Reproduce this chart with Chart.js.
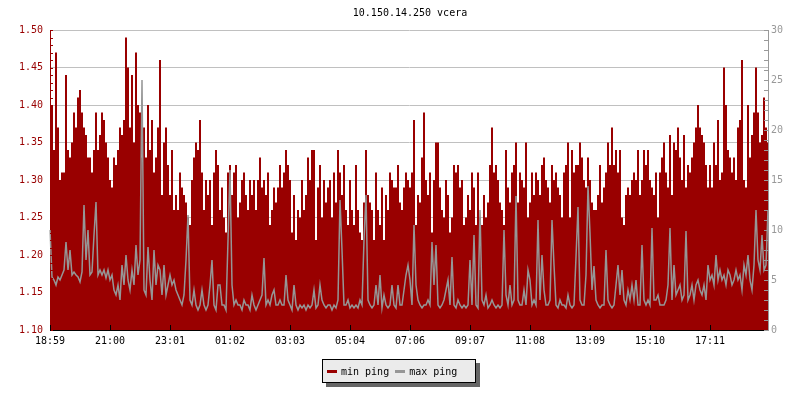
<!DOCTYPE html>
<html>
<head>
<meta charset="utf-8">
<script src="https://cdn.jsdelivr.net/npm/chart.js@4/dist/chart.umd.min.js"></script>
<style>
  html, body { margin: 0; padding: 0; background: #fff; }
  #wrap { position: relative; width: 800px; height: 400px; overflow: hidden; }
  canvas { position: absolute; left: 0; top: 0; }
  #title { position: absolute; left: 10px; top: 6px; width: 800px; text-align: center;
           font: 10px 'DejaVu Sans Mono', monospace; line-height: 14px; color: #000; }
  #legend { position: absolute; left: 322px; top: 359px; width: 152px; height: 22px;
            border: 1px solid #000; background: #ebebeb; box-shadow: 4px 4px 0 #666;
            display: flex; align-items: center; font: 10px 'DejaVu Sans Mono', monospace; color: #000; }
  .sw { display: inline-block; width: 10px; height: 3px; margin-right: 4px; }
</style>
</head>
<body>
<div id="wrap">
  <canvas id="c" width="800" height="400"></canvas>
  <div id="title">10.150.14.250 vcera</div>
  <div id="legend">
    <span class="sw" style="background:#990000;margin-left:4px"></span><span>min ping</span>
    <span class="sw" style="background:#969696;margin-left:6px"></span><span>max ping</span>
  </div>
</div>
<script>
// x tick labels (every 30 samples, 4 minutes per sample)
const tickLabels = ['18:59','21:00','23:01','01:02','03:03','05:04','07:06','09:07','11:08','13:09','15:10','17:11'];

// min ping (left axis)
const minPing = [
  1.38,1.40,1.34,1.47,1.37,1.30,1.31,1.31,1.44,1.34,1.33,1.35,1.39,1.37,1.41,1.42,1.39,1.37,1.36,1.33,1.33,1.31,1.34,1.39,1.34,1.36,1.39,1.38,1.35,1.33,
  1.30,1.29,1.33,1.32,1.34,1.37,1.36,1.38,1.49,1.45,1.37,1.44,1.35,1.47,1.40,1.39,1.33,1.37,1.33,1.40,1.34,1.38,1.31,1.33,1.37,1.46,1.28,1.35,1.37,1.32,
  1.28,1.34,1.26,1.28,1.26,1.31,1.29,1.28,1.27,1.25,1.24,1.30,1.33,1.35,1.34,1.38,1.31,1.26,1.30,1.28,1.30,1.24,1.31,1.34,1.32,1.26,1.29,1.25,1.23,1.31,
  1.32,1.28,1.31,1.32,1.25,1.27,1.30,1.31,1.28,1.26,1.30,1.28,1.30,1.26,1.30,1.33,1.29,1.30,1.28,1.31,1.24,1.26,1.29,1.27,1.29,1.32,1.29,1.31,1.34,1.32,
  1.30,1.23,1.28,1.22,1.26,1.25,1.30,1.26,1.28,1.33,1.30,1.34,1.34,1.22,1.29,1.32,1.25,1.30,1.27,1.29,1.30,1.25,1.31,1.27,1.34,1.31,1.28,1.32,1.26,1.24,
  1.30,1.26,1.24,1.32,1.26,1.23,1.22,1.27,1.34,1.28,1.27,1.26,1.22,1.31,1.26,1.24,1.29,1.22,1.28,1.26,1.31,1.30,1.29,1.29,1.32,1.27,1.26,1.29,1.31,1.30,
  1.29,1.31,1.38,1.24,1.28,1.27,1.33,1.39,1.30,1.28,1.31,1.23,1.30,1.35,1.35,1.29,1.26,1.25,1.30,1.28,1.23,1.25,1.32,1.31,1.32,1.29,1.30,1.24,1.25,1.28,
  1.26,1.31,1.29,1.24,1.31,1.25,1.24,1.28,1.25,1.27,1.32,1.37,1.31,1.32,1.30,1.27,1.26,1.24,1.34,1.29,1.27,1.31,1.32,1.35,1.27,1.31,1.30,1.29,1.35,1.25,
  1.27,1.31,1.28,1.31,1.30,1.28,1.32,1.33,1.30,1.29,1.27,1.32,1.30,1.31,1.29,1.28,1.25,1.31,1.32,1.35,1.25,1.34,1.31,1.32,1.32,1.35,1.33,1.30,1.29,1.33,
  1.30,1.27,1.26,1.26,1.28,1.32,1.27,1.29,1.31,1.35,1.32,1.37,1.32,1.34,1.31,1.34,1.25,1.24,1.28,1.29,1.28,1.30,1.31,1.30,1.34,1.28,1.30,1.34,1.32,1.34,
  1.30,1.29,1.28,1.31,1.25,1.31,1.33,1.35,1.31,1.29,1.36,1.28,1.35,1.34,1.37,1.33,1.30,1.36,1.29,1.32,1.31,1.33,1.35,1.37,1.40,1.37,1.36,1.35,1.32,1.29,
  1.32,1.29,1.35,1.32,1.38,1.30,1.31,1.45,1.40,1.34,1.33,1.31,1.33,1.30,1.37,1.38,1.46,1.30,1.29,1.40,1.33,1.36,1.39,1.45,1.39,1.35,1.36,1.41,1.37,1.35
];

// max ping (right axis)
const maxPing = [
  10,5.3,5,4.5,5.3,5,5.5,6,8.8,6,8,5.5,5.8,5.5,5.3,4.8,5.8,12.5,7,10,5.5,5.8,9.5,12.8,5.5,6,5.5,6,5.2,6,
  5,5.5,4,3.5,4.5,3,6.5,4.5,7.5,5,4,6,4.5,8.5,5.5,7,25,4,3.5,8.3,5,3,8,4.5,6.5,6,3.5,6.5,3.5,4.5,
  5.5,4.5,5,4,3.5,3,2.5,3.5,7,11.5,3,2.5,4,2.5,2,2.5,4,2.5,2,2.5,4.5,7,2.5,2,4.5,4.5,2.5,2.5,2,9,
  16,4.5,2.5,3,2.5,2.5,2,3,2.5,2.5,2,3.5,2.5,2,2.5,3,3.5,7.2,2.5,3,2.5,3.5,4,2.5,2.5,3,2.5,2.5,5.5,3,
  2.5,2,4.5,2.5,2,2.5,2.2,2.5,2,2.5,2.2,2.5,4,2.2,2.5,4.5,3,2.5,2.2,2.5,2.5,2,2.5,2.2,3,13,8,2.5,2.5,3,
  2.2,2.5,2.2,2.5,2.2,3,2.5,9,13.5,3,2.5,2.2,2.5,4.5,2.5,5.5,2.2,3.5,2.5,2.2,2.5,4.5,2.5,2.2,4.5,2.5,2.5,4,5.5,6.5,
  5,2.5,10.5,4.5,3,2.5,2.2,2.5,2.5,3,2.5,8.8,4.5,8.5,2.5,2.2,2.5,3,4,5,2.5,7.3,2.5,2.2,3,2.5,2.2,2.5,2.2,2.5,
  7,2.5,9.5,2.5,2.2,12,3,2.5,3.5,2.2,2.5,3,2.5,2.2,2.5,2.2,2.5,10,3.5,2.5,4.5,2.5,3,13.4,3,2.5,2.5,4,2.5,6,
  5,2.5,3,2.5,11,3,7.5,4,2.5,2.5,3,11,6.5,2.5,2.2,3,2.5,2.5,2.2,3.5,2.5,2.2,2.5,7.3,12.3,3,2.5,2.5,5.5,14.4,
  9.7,4,6.4,3,2.5,2.2,2.5,2.5,8,3,2.5,2.2,2.5,4.5,6.5,3.5,6,3,2.5,4,3,4.5,3,5,2.5,2.5,8.5,3,2.5,3,
  2.5,10.2,3,3,3.5,2.5,2.5,2.5,3,4.5,10.2,3,6.5,3.5,4,4.5,3,3.5,9.9,3,3.5,4.5,3,4.5,5,4,3.5,4.5,3,6.5,
  5,5.5,4.5,7.5,5,6,5,5.5,4.5,6,5.5,4.5,5,6,5,5.5,4,6.5,5.5,7.5,5,4,6.5,12,7,6,9.5,6,6.5,12
];

const samples = minPing.map((_, i) => i);
const FONT = { family: "'DejaVu Sans Mono', monospace", size: 10 };

const axisDeco = {
  id: 'axisDeco',
  afterDatasetsDraw(chart) {
    const { ctx, chartArea: a, scales } = chart;
    const yl = scales.yL, yr = scales.yR, x = scales.x;
    ctx.save();
    ctx.lineWidth = 1;
    ctx.strokeStyle = '#990000';
    for (let v = 110; v <= 150; v++) {
      const y = Math.round(yl.getPixelForValue(v / 100)) + 0.5;
      ctx.beginPath(); ctx.moveTo(a.left, y); ctx.lineTo(a.left + 3, y); ctx.stroke();
    }
    ctx.strokeStyle = '#999999';
    for (let v = 0; v <= 30; v++) {
      const y = Math.round(yr.getPixelForValue(v)) + 0.5;
      ctx.beginPath(); ctx.moveTo(a.right - 4, y); ctx.lineTo(a.right, y); ctx.stroke();
    }
    ctx.strokeStyle = '#000';
    for (let i = 0; i < tickLabels.length; i++) {
      const px = Math.round(x.getPixelForValue(i * 30)) + 0.5;
      ctx.beginPath(); ctx.moveTo(px, a.bottom - 5); ctx.lineTo(px, a.bottom + 1); ctx.stroke();
    }
    ctx.restore();
  }
};

new Chart(document.getElementById('c'), {
  type: 'line',
  data: {
    labels: samples,
    datasets: [
      { label: 'min ping', data: minPing, yAxisID: 'yL', order: 2,
        backgroundColor: '#990000', borderColor: 'rgba(0,0,0,0)', borderWidth: 0,
        fill: 'start', stepped: 'middle', pointRadius: 0 },
      { label: 'max ping', data: maxPing, yAxisID: 'yR', order: 1,
        borderColor: '#969696', borderWidth: 1.5, fill: false, tension: 0, pointRadius: 0 }
    ]
  },
  options: {
    responsive: false,
    animation: false,
    devicePixelRatio: 1,
    layout: { padding: { top: 30, bottom: 50, left: 0, right: 0 } },
    plugins: { legend: { display: false }, title: { display: false }, tooltip: { enabled: false } },
    scales: {
      x: {
        type: 'category',
        afterFit: s => { s.height = 20; },
        grid: { display: false, drawTicks: false },
        border: { display: true, color: '#000', width: 1 },
        ticks: {
          autoSkip: false, maxRotation: 0, minRotation: 0, padding: 5,
          color: '#000', font: FONT,
          callback: (v, i) => (i % 30 === 0 && tickLabels[i / 30]) ? tickLabels[i / 30] : null
        }
      },
      yL: {
        position: 'left', min: 1.10, max: 1.50,
        afterFit: s => { s.width = 50; },
        grid: { color: '#c0c0c0', drawTicks: false },
        border: { display: true, color: '#990000', width: 1 },
        ticks: { stepSize: 0.05, padding: 7, color: '#990000', font: FONT,
                 callback: v => Number(v).toFixed(2) }
      },
      yR: {
        position: 'right', min: 0, max: 30,
        afterFit: s => { s.width = 32; },
        grid: { drawOnChartArea: false, drawTicks: false },
        border: { display: true, color: '#999999', width: 1 },
        ticks: { stepSize: 5, padding: 3, color: '#999999', font: FONT }
      }
    }
  },
  plugins: [axisDeco]
});
</script>
</body>
</html>
